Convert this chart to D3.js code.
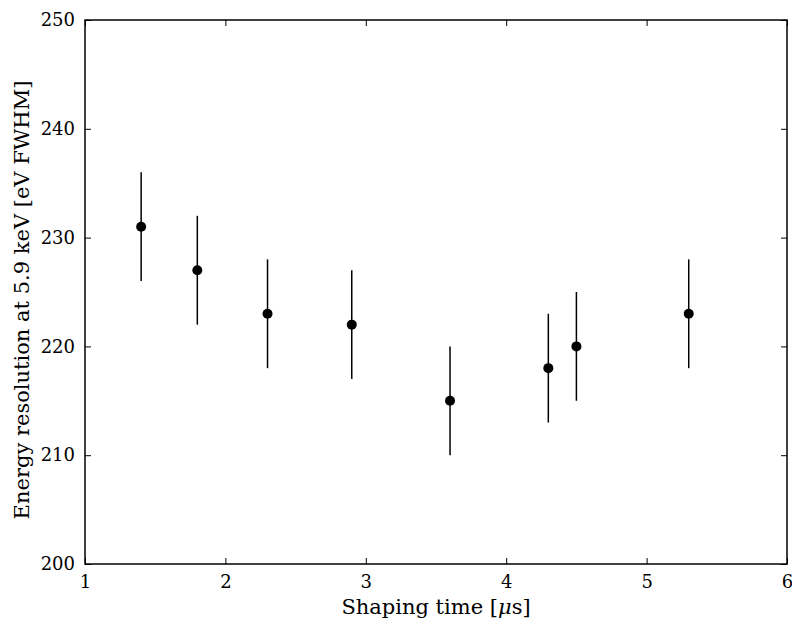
<!DOCTYPE html>
<html lang="en">
<head>
<meta charset="utf-8">
<title>Energy resolution vs shaping time</title>
<script src="https://d3js.org/d3.v7.min.js"></script>
<style>
  body { margin: 0; background: #fff; }
  text { font-family: "DejaVu Serif", "Liberation Serif", serif; }
</style>
</head>
<body>
<script>
// data
var shapingTime = [1.4, 1.8, 2.3, 2.9, 3.6, 4.3, 4.5, 5.3];
var resolution  = [231, 227, 223, 222, 215, 218, 220, 223];
var errors      = [5, 5, 5, 5, 5, 5, 5, 5];
var xTicks = [1, 2, 3, 4, 5, 6];
var yTicks = [200, 210, 220, 230, 240, 250];

var w = 792, h = 627;
var m = {left: 85, right: 5, top: 20, bottom: 63};

var svg = d3.select("body").append("svg")
  .attr("width", w).attr("height", h);

var x = d3.scaleLinear().domain([1, 6]).range([m.left, w - m.right]);
var y = d3.scaleLinear().domain([200, 250]).range([h - m.bottom, m.top]);

var tickFont = "18px";

// axes, ticks pointing inward on all four sides
svg.append("g")
  .attr("transform", "translate(0," + (h - m.bottom) + ")")
  .call(d3.axisBottom(x).tickValues(xTicks).tickFormat(d3.format("d"))
    .tickSizeInner(-6).tickSizeOuter(0).tickPadding(11))
  .call(function(g) {
    g.select(".domain").remove();
    g.selectAll("text").attr("font-size", tickFont).attr("fill", "#000");
  });

svg.append("g")
  .attr("transform", "translate(0," + m.top + ")")
  .call(d3.axisTop(x).tickValues(xTicks).tickSizeInner(-6).tickSizeOuter(0).tickFormat(""))
  .call(function(g) { g.select(".domain").remove(); });

svg.append("g")
  .attr("transform", "translate(" + m.left + ",0)")
  .call(d3.axisLeft(y).tickValues(yTicks).tickSizeInner(-6).tickSizeOuter(0).tickPadding(10))
  .call(function(g) {
    g.select(".domain").remove();
    g.selectAll("text").attr("font-size", tickFont).attr("fill", "#000");
  });

svg.append("g")
  .attr("transform", "translate(" + (w - m.right) + ",0)")
  .call(d3.axisRight(y).tickValues(yTicks).tickSizeInner(-6).tickSizeOuter(0).tickFormat(""))
  .call(function(g) { g.select(".domain").remove(); });

svg.selectAll(".tick line").attr("stroke", "#000").attr("stroke-width", 1);

// frame
svg.append("rect")
  .attr("x", m.left).attr("y", m.top)
  .attr("width", w - m.left - m.right)
  .attr("height", h - m.top - m.bottom)
  .attr("fill", "none").attr("stroke", "#000").attr("stroke-width", 1.5);

var pts = shapingTime.map(function(t, i) {
  return {t: t, r: resolution[i], e: errors[i]};
});

// error bars
svg.selectAll(".err").data(pts).enter().append("line")
  .attr("class", "err")
  .attr("x1", function(d) { return x(d.t); })
  .attr("x2", function(d) { return x(d.t); })
  .attr("y1", function(d) { return y(d.r - d.e); })
  .attr("y2", function(d) { return y(d.r + d.e); })
  .attr("stroke", "#000").attr("stroke-width", 1.5);

// markers
svg.selectAll(".pt").data(pts).enter().append("circle")
  .attr("class", "pt")
  .attr("cx", function(d) { return x(d.t); })
  .attr("cy", function(d) { return y(d.r); })
  .attr("r", 5)
  .attr("fill", "#000");

// axis labels
svg.append("text")
  .attr("x", (m.left + w - m.right) / 2).attr("y", 614)
  .attr("text-anchor", "middle").attr("font-size", "21px")
  .html("Shaping time [<tspan font-style='italic'>μ</tspan>s]");

svg.append("text")
  .attr("transform", "translate(29,300) rotate(-90)")
  .attr("text-anchor", "middle").attr("font-size", "21px")
  .text("Energy resolution at 5.9 keV [eV FWHM]");
</script>
</body>
</html>
